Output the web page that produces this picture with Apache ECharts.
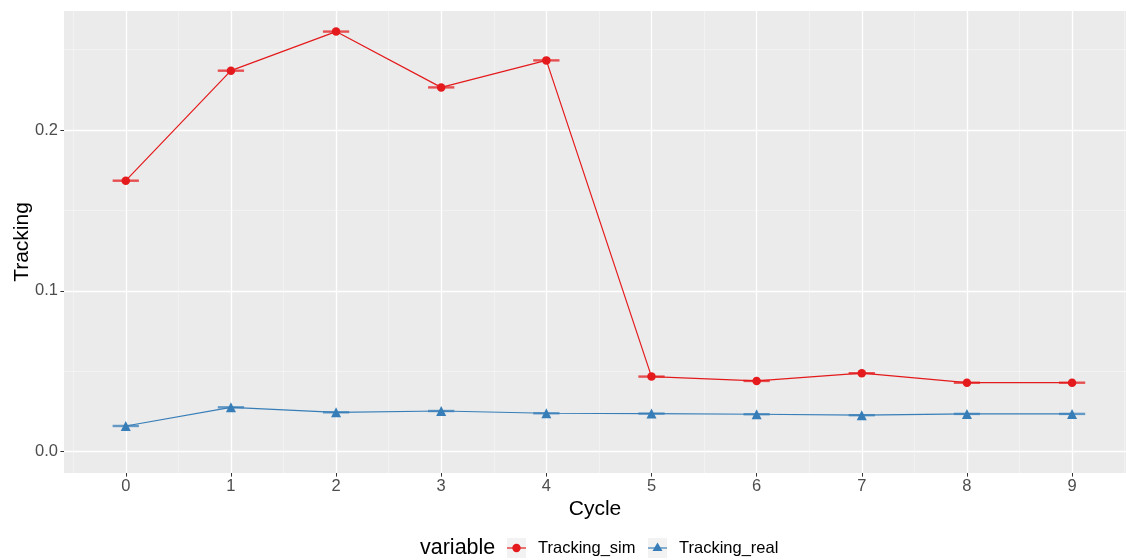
<!DOCTYPE html>
<html>
<head>
<meta charset="utf-8">
<script src="https://cdn.jsdelivr.net/npm/echarts@6/dist/echarts.min.js"></script>
<style>html,body{margin:0;padding:0;background:#fff}#c{width:1126px;height:560px}</style>
</head>
<body>
<div id="c"></div>
<script>
const cycles = [0, 1, 2, 3, 4, 5, 6, 7, 8, 9];
const trackingSim = [0.1685, 0.2369, 0.2612, 0.2265, 0.2433, 0.0467, 0.0440, 0.0488, 0.0429, 0.0429];
const trackingReal = [0.0160, 0.0276, 0.0245, 0.0253, 0.0239, 0.0237, 0.0233, 0.0227, 0.0235, 0.0235];
const yTicks = [0, 0.1, 0.2];
const yMinor = [0.05, 0.15, 0.25];
const xMinor = [-0.5, 0.5, 1.5, 2.5, 3.5, 4.5, 5.5, 6.5, 7.5, 8.5, 9.5];
const seriesNames = ['Tracking_sim', 'Tracking_real'];
const legendTitle = 'variable';

const RED = '#E41A1C', BLUE = '#377EB8';
const FONT = '"Liberation Sans", Arial, sans-serif';
const X_MIN = -0.5875, X_MAX = 9.513, Y_MIN = -0.01324, Y_MAX = 0.274;
const ERR_HALF = 0.125;

const pairs = arr => cycles.map((c, i) => [c, arr[i]]);

function errRender(color) {
  return function (params, api) {
    const x = api.value(0), y = api.value(1);
    const p1 = api.coord([x - ERR_HALF, y]);
    const p2 = api.coord([x + ERR_HALF, y]);
    return {
      type: 'line',
      shape: { x1: p1[0], y1: p1[1], x2: p2[0], y2: p2[1] },
      style: { stroke: color, lineWidth: 2.4, opacity: 0.75 }
    };
  };
}

const chart = echarts.init(document.getElementById('c'), null, { renderer: 'canvas' });
chart.setOption({
  animation: false,
  backgroundColor: '#ffffff',
  textStyle: { fontFamily: FONT },
  grid: { left: 64, top: 11, width: 1062, height: 462, backgroundColor: '#EBEBEB', show: true, borderWidth: 0,
    containLabel: false, outerBoundsMode: 'none' },
  xAxis: [
    {
      type: 'value', min: X_MIN, max: X_MAX,
      name: 'Cycle', nameLocation: 'middle', nameGap: 26, nameMoveOverlap: false,
      nameTextStyle: { fontSize: 21, color: '#000', fontFamily: FONT },
      axisLine: { show: false, onZero: false },
      axisTick: { show: true, length: 3.6, lineStyle: { color: '#333', width: 1 }, customValues: cycles },
      axisLabel: { customValues: cycles, color: '#4D4D4D', fontSize: 16.5, margin: 5, fontFamily: FONT },
      splitLine: { show: true, lineStyle: { color: '#fff', width: 1.3 } }
    },
    {
      type: 'value', min: X_MIN, max: X_MAX, position: 'bottom',
      axisLine: { show: false, onZero: false },
      axisTick: { show: false, customValues: xMinor },
      axisLabel: { show: false, customValues: xMinor },
      splitLine: { show: true, lineStyle: { color: '#F5F5F5', width: 0.7 } }
    }
  ],
  yAxis: [
    {
      type: 'value', min: Y_MIN, max: Y_MAX,
      name: 'Tracking', nameLocation: 'middle', nameGap: 31, nameMoveOverlap: false,
      nameTextStyle: { fontSize: 21, color: '#000', fontFamily: FONT },
      axisLine: { show: false, onZero: false },
      axisTick: { show: true, length: 3.6, lineStyle: { color: '#333', width: 1 }, customValues: yTicks },
      axisLabel: { customValues: yTicks, color: '#4D4D4D', fontSize: 16.5, margin: 6, fontFamily: FONT,
        formatter: v => Number(v).toFixed(1) },
      splitLine: { show: true, lineStyle: { color: '#fff', width: 1.3 } }
    },
    {
      type: 'value', min: Y_MIN, max: Y_MAX, position: 'left',
      axisLine: { show: false, onZero: false },
      axisTick: { show: false, customValues: yMinor },
      axisLabel: { show: false, customValues: yMinor },
      splitLine: { show: true, lineStyle: { color: '#F5F5F5', width: 0.7 } }
    }
  ],
  legend: { show: false },
  series: [
    { type: 'custom', name: seriesNames[0] + ' err', xAxisIndex: 0, yAxisIndex: 0, renderItem: errRender(RED),
      data: pairs(trackingSim), encode: { x: 0, y: 1 }, z: 3 },
    { type: 'custom', name: seriesNames[1] + ' err', xAxisIndex: 0, yAxisIndex: 0, renderItem: errRender(BLUE),
      data: pairs(trackingReal), encode: { x: 0, y: 1 }, z: 3 },
    { type: 'line', name: seriesNames[0], data: pairs(trackingSim), xAxisIndex: 0, yAxisIndex: 0,
      symbol: 'circle', symbolSize: 8.5, showAllSymbol: true,
      lineStyle: { color: RED, width: 1.2 }, itemStyle: { color: RED }, z: 4 },
    { type: 'line', name: seriesNames[1], data: pairs(trackingReal), xAxisIndex: 0, yAxisIndex: 0,
      symbol: 'triangle', symbolSize: 10, showAllSymbol: true,
      lineStyle: { color: BLUE, width: 1.2 }, itemStyle: { color: BLUE }, z: 4 }
  ],
  graphic: [
    { type: 'text', left: 420, top: 537, style: { text: legendTitle, fontSize: 21.5, fill: '#000', fontFamily: FONT } },
    { type: 'rect', shape: { x: 507, y: 538, width: 19, height: 20 }, style: { fill: '#F2F2F2' } },
    { type: 'line', shape: { x1: 507, y1: 548, x2: 526, y2: 548 }, style: { stroke: RED, lineWidth: 1.2 } },
    { type: 'circle', shape: { cx: 516.5, cy: 548, r: 4.2 }, style: { fill: RED } },
    { type: 'text', left: 538, top: 540, style: { text: seriesNames[0], fontSize: 16.5, fill: '#000', fontFamily: FONT } },
    { type: 'rect', shape: { x: 648, y: 538, width: 19, height: 20 }, style: { fill: '#F2F2F2' } },
    { type: 'line', shape: { x1: 648, y1: 548, x2: 667, y2: 548 }, style: { stroke: BLUE, lineWidth: 1.2 } },
    { type: 'polygon', shape: { points: [[657.5, 542.5], [662.5, 551], [652.5, 551]] }, style: { fill: BLUE } },
    { type: 'text', left: 679, top: 540, style: { text: seriesNames[1], fontSize: 16.5, fill: '#000', fontFamily: FONT } }
  ]
});
</script>
</body>
</html>
